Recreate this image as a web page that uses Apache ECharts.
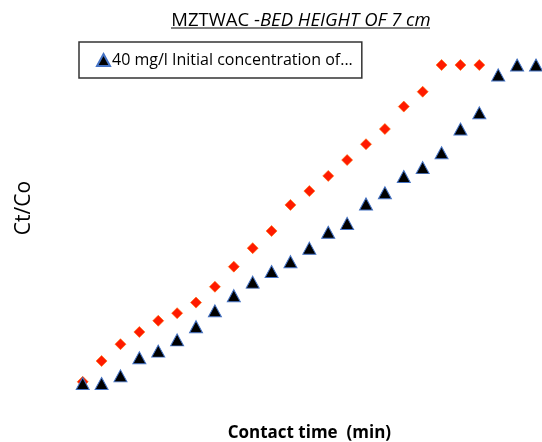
<!DOCTYPE html>
<html><head><meta charset="utf-8">
<script src="https://cdn.jsdelivr.net/npm/echarts@6/dist/echarts.min.js"></script>
<style>html,body{margin:0;padding:0;background:#fff}#c{width:542px;height:442px}</style>
</head><body><div id="c"></div>
<script>
// contact time (min) – index based spacing
const timeDiamond = [0,10,20,30,40,50,60,70,80,90,100,110,120,130,140,150,160,170,180,190,200,210];
const ctcoDiamond = [0.04,0.103,0.154,0.191,0.225,0.248,0.28,0.328,0.389,0.445,0.497,0.576,0.618,0.664,0.712,0.76,0.806,0.874,0.919,1.0,1.0,1.0];
const timeTriangle = [0,10,20,30,40,50,60,70,80,90,100,110,120,130,140,150,160,170,180,190,200,210,220,230,240];
const ctcoTriangle = [0.035,0.035,0.058,0.113,0.133,0.167,0.207,0.255,0.301,0.342,0.374,0.404,0.445,0.493,0.52,0.579,0.613,0.662,0.689,0.734,0.806,0.855,0.97,1.0,1.0];
const legendName = '40 mg/l Initial concentration of...';

const FONT = '"Open Sans", "Noto Sans", sans-serif';
const chart = echarts.init(document.getElementById('c'));
chart.setOption({
  animation: false,
  title: {
    text: '{a|MZTWAC -}{b|BED HEIGHT OF 7 cm}',
    left: 296, top: 6, textAlign: 'center',
    textStyle: {
      fontWeight: 'normal',
      rich: {
        a: {fontFamily: FONT, fontSize: 18.5, color: '#000', fontWeight: 'normal'},
        b: {fontFamily: FONT, fontSize: 18.5, color: '#000', fontStyle: 'italic', fontWeight: 'normal'}
      }
    }
  },
  graphic: [{
    type: 'line', shape: {x1: 171, y1: 28, x2: 430, y2: 28},
    style: {stroke: '#000', lineWidth: 1}
  }],
  legend: {
    data: [legendName],
    left: 79, top: 42,
    padding: [10, 9, 10, 17],
    itemWidth: 13, itemHeight: 12, itemGap: 4,
    borderColor: '#333', borderWidth: 1.5,
    textStyle: {fontFamily: FONT, fontSize: 16, color: '#000', padding: [0, 0, 0, -3]}
  },
  grid: {left: 82.7, right: 6, top: 65, bottom: 47, outerBoundsMode: 'none', containLabel: false},
  xAxis: {
    type: 'value', min: 0, max: 240,
    name: 'Contact time  (min)', nameLocation: 'middle', nameGap: 30,
    nameTextStyle: {fontFamily: FONT, fontSize: 17, fontWeight: 'bold', color: '#000'},
    axisLine: {show: false}, axisTick: {show: false}, axisLabel: {show: false}, splitLine: {show: false}
  },
  yAxis: {
    type: 'value', min: 0, max: 1,
    name: 'Ct/Co', nameLocation: 'middle', nameGap: 48,
    nameTextStyle: {fontFamily: FONT, fontSize: 21, color: '#000', padding: [0, 0, 0, 44]},
    axisLine: {show: false}, axisTick: {show: false}, axisLabel: {show: false}, splitLine: {show: false}
  },
  series: [
    {
      name: 'diamond', type: 'scatter', clip: false,
      symbol: 'diamond', symbolSize: 11,
      itemStyle: {color: '#FF1A00', borderColor: '#FF6A00', borderWidth: 0.6, opacity: 1},
      data: timeDiamond.map((t, i) => [t, ctcoDiamond[i]])
    },
    {
      name: legendName, type: 'scatter', clip: false,
      symbol: 'triangle', symbolSize: [13, 12],
      itemStyle: {color: '#000', borderColor: '#4472C4', borderWidth: 1, opacity: 1},
      data: timeTriangle.map((t, i) => [t, ctcoTriangle[i]])
    }
  ]
});
</script></body></html>
